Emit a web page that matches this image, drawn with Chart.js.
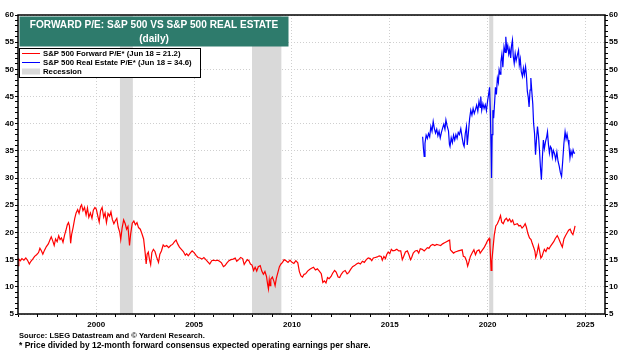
<!DOCTYPE html>
<html>
<head>
<meta charset="utf-8">
<script src="https://cdn.jsdelivr.net/npm/chart.js@4/dist/chart.umd.min.js"></script>
<style>
    html, body { margin: 0; padding: 0; background: #ffffff; }
    #wrap { position: relative; width: 624px; height: 353px; }
</style>
</head>
<body>
<div id="wrap"><canvas id="peChart" width="624" height="353"></canvas></div>
<script>
// S&P 500 forward P/E (decimal year, value)
const spxDates = [
    1996.00, 1996.04, 1996.12, 1996.20, 1996.30, 1996.40, 1996.50, 1996.58, 1996.66, 1996.75,
    1996.85, 1996.95, 1997.05, 1997.12, 1997.20, 1997.27, 1997.35, 1997.45, 1997.55, 1997.63,
    1997.70, 1997.78, 1997.85, 1997.92, 1998.00, 1998.08, 1998.15, 1998.22, 1998.30, 1998.38,
    1998.45, 1998.52, 1998.58, 1998.63, 1998.69, 1998.74, 1998.82, 1998.90, 1998.97, 1999.05,
    1999.12, 1999.20, 1999.25, 1999.32, 1999.40, 1999.48, 1999.55, 1999.62, 1999.70, 1999.78,
    1999.85, 1999.93, 2000.00, 2000.08, 2000.15, 2000.22, 2000.30, 2000.38, 2000.45, 2000.52,
    2000.60, 2000.68, 2000.75, 2000.82, 2000.90, 2000.98, 2001.05, 2001.12, 2001.20, 2001.25,
    2001.32, 2001.40, 2001.48, 2001.55, 2001.62, 2001.70, 2001.76, 2001.84, 2001.92, 2002.00,
    2002.08, 2002.16, 2002.25, 2002.33, 2002.42, 2002.50, 2002.55, 2002.60, 2002.66, 2002.72,
    2002.78, 2002.84, 2002.92, 2003.00, 2003.08, 2003.18, 2003.25, 2003.33, 2003.42, 2003.50,
    2003.60, 2003.70, 2003.80, 2003.90, 2004.00, 2004.08, 2004.16, 2004.25, 2004.35, 2004.45,
    2004.55, 2004.62, 2004.70, 2004.80, 2004.90, 2005.00, 2005.10, 2005.20, 2005.30, 2005.40,
    2005.50, 2005.60, 2005.70, 2005.80, 2005.90, 2006.00, 2006.10, 2006.20, 2006.30, 2006.40,
    2006.50, 2006.58, 2006.68, 2006.78, 2006.88, 2007.00, 2007.10, 2007.18, 2007.28, 2007.38,
    2007.48, 2007.56, 2007.64, 2007.72, 2007.80, 2007.88, 2007.96, 2008.04, 2008.12, 2008.20,
    2008.28, 2008.38, 2008.46, 2008.54, 2008.62, 2008.70, 2008.76, 2008.80, 2008.84, 2008.88,
    2008.92, 2009.00, 2009.08, 2009.14, 2009.20, 2009.28, 2009.36, 2009.44, 2009.52, 2009.60,
    2009.70, 2009.80, 2009.90, 2010.00, 2010.10, 2010.20, 2010.30, 2010.38, 2010.46, 2010.54,
    2010.62, 2010.70, 2010.80, 2010.90, 2011.00, 2011.10, 2011.20, 2011.30, 2011.40, 2011.50,
    2011.58, 2011.66, 2011.74, 2011.82, 2011.90, 2012.00, 2012.08, 2012.18, 2012.26, 2012.36,
    2012.44, 2012.52, 2012.62, 2012.72, 2012.82, 2012.90, 2013.00, 2013.10, 2013.20, 2013.30,
    2013.40, 2013.50, 2013.60, 2013.70, 2013.80, 2013.90, 2014.00, 2014.08, 2014.16, 2014.26,
    2014.36, 2014.46, 2014.56, 2014.62, 2014.70, 2014.78, 2014.84, 2014.92, 2015.00, 2015.08,
    2015.16, 2015.26, 2015.36, 2015.46, 2015.56, 2015.64, 2015.70, 2015.80, 2015.90, 2015.98,
    2016.06, 2016.12, 2016.20, 2016.30, 2016.40, 2016.48, 2016.56, 2016.66, 2016.76, 2016.84,
    2016.92, 2017.00, 2017.10, 2017.20, 2017.30, 2017.40, 2017.50, 2017.60, 2017.70, 2017.80,
    2017.90, 2018.00, 2018.06, 2018.10, 2018.18, 2018.26, 2018.34, 2018.42, 2018.50, 2018.60,
    2018.70, 2018.76, 2018.84, 2018.92, 2018.98, 2019.04, 2019.12, 2019.22, 2019.30, 2019.38,
    2019.46, 2019.56, 2019.62, 2019.72, 2019.82, 2019.92, 2020.00, 2020.08, 2020.12, 2020.18,
    2020.22, 2020.28, 2020.34, 2020.42, 2020.50, 2020.58, 2020.66, 2020.72, 2020.80, 2020.88,
    2020.96, 2021.04, 2021.12, 2021.20, 2021.28, 2021.36, 2021.44, 2021.52, 2021.60, 2021.68,
    2021.76, 2021.84, 2021.92, 2021.98, 2022.06, 2022.14, 2022.22, 2022.28, 2022.36, 2022.42,
    2022.46, 2022.52, 2022.60, 2022.66, 2022.72, 2022.78, 2022.84, 2022.90, 2022.98, 2023.06,
    2023.14, 2023.22, 2023.30, 2023.38, 2023.46, 2023.56, 2023.62, 2023.70, 2023.78, 2023.82,
    2023.90, 2023.98, 2024.06, 2024.14, 2024.22, 2024.30, 2024.36, 2024.42, 2024.47
];
const spxPE = [
    13.9, 15.1, 14.8, 15.2, 14.9, 15.3, 14.8, 14.2, 14.7, 15.1,
    15.6, 15.9, 16.3, 17.1, 16.6, 16.0, 16.7, 17.4, 17.9, 18.6,
    19.2, 18.4, 17.6, 18.8, 18.3, 19.4, 18.7, 19.0, 18.2, 19.5,
    20.4, 21.4, 21.8, 21.2, 18.0, 19.6, 21.0, 22.6, 23.6, 24.2,
    23.5, 24.8, 25.1, 24.0, 24.6, 23.2, 24.5, 22.8, 23.6, 22.6,
    24.1, 24.6, 24.3, 23.0, 21.9, 24.0, 24.6, 22.8, 23.6, 21.8,
    23.5, 23.0, 23.8, 22.4, 21.6, 22.2, 22.6, 21.0, 20.0, 18.7,
    20.8, 22.3, 21.6, 20.6, 21.1, 17.6, 19.8, 21.7, 22.1, 21.4,
    21.8, 20.9, 20.6, 19.8, 18.8, 16.2, 14.2, 16.0, 16.4, 15.0,
    14.1, 16.3, 16.9, 16.5, 15.5, 14.5, 16.0, 16.6, 17.7, 17.4,
    17.6, 17.2, 17.6, 17.8, 18.3, 18.6, 17.9, 17.3, 16.9, 16.5,
    15.8, 16.1, 15.7, 16.2, 16.6, 16.3, 15.8, 15.4, 15.3, 15.1,
    15.4, 15.0, 14.6, 14.2, 14.8, 14.9, 14.8, 14.9, 14.7, 14.4,
    13.7, 13.9, 14.4, 14.8, 15.0, 15.1, 15.3, 14.7, 15.0, 15.4,
    15.2, 14.1, 14.6, 15.0, 14.8, 14.2, 14.0, 13.0, 13.6, 12.9,
    13.7, 13.9, 12.9, 12.3, 12.8, 11.9, 10.4, 9.6, 11.3, 10.2,
    11.4, 11.8, 11.0, 10.2, 11.5, 12.6, 13.7, 14.2, 14.5, 15.0,
    14.8, 14.5, 14.9, 14.5, 14.3, 14.8, 14.4, 12.8, 12.0, 11.8,
    12.3, 12.4, 12.9, 13.2, 13.4, 13.6, 13.1, 13.3, 12.9, 12.4,
    10.8, 11.1, 10.7, 11.7, 11.5, 11.9, 12.5, 13.0, 12.7, 11.8,
    11.7, 12.3, 12.8, 13.0, 12.4, 12.6, 13.2, 13.7, 13.9, 14.2,
    14.4, 14.2, 14.7, 14.5, 15.0, 15.3, 15.2, 14.8, 15.3, 15.4,
    15.5, 15.7, 15.6, 14.9, 15.6, 15.2, 15.9, 16.4, 16.1, 16.9,
    16.6, 16.7, 16.9, 16.6, 16.6, 15.0, 15.5, 16.4, 16.6, 15.9,
    15.0, 15.4, 16.2, 16.6, 16.7, 16.2, 17.0, 16.9, 16.6, 16.9,
    17.2, 17.1, 17.6, 17.8, 17.6, 17.8, 17.7, 17.6, 17.9, 18.1,
    18.3, 18.5, 18.6, 16.8, 16.5, 16.2, 16.4, 16.5, 16.6, 16.7,
    16.8, 15.6, 15.5, 14.8, 13.8, 14.5, 15.6, 16.3, 16.8, 15.9,
    16.6, 16.8, 16.2, 16.7, 17.2, 17.9, 18.5, 18.9, 17.8, 13.0,
    14.8, 17.2, 19.5, 21.2, 21.6, 22.3, 23.1, 21.9, 21.6, 22.3,
    22.6, 22.1, 22.5, 21.9, 22.3, 21.4, 21.5, 21.6, 21.2, 21.3,
    20.8, 21.1, 21.6, 21.0, 19.8, 19.0, 18.7, 18.0, 17.2, 16.5,
    15.4, 16.1, 17.6, 16.5, 15.3, 15.6, 16.3, 16.9, 16.5, 17.2,
    17.0, 17.5, 17.9, 18.3, 18.9, 19.4, 19.0, 18.3, 17.6, 17.3,
    18.8, 19.4, 19.9, 20.4, 20.6, 19.9, 19.6, 20.4, 21.2
];

// S&P 500 Real Estate forward P/E
const reDates = [
    2016.68, 2016.72, 2016.76, 2016.80, 2016.86, 2016.92, 2016.98, 2017.04, 2017.10, 2017.16,
    2017.22, 2017.28, 2017.34, 2017.40, 2017.46, 2017.52, 2017.58, 2017.64, 2017.70, 2017.76,
    2017.82, 2017.87, 2017.93, 2018.00, 2018.05, 2018.08, 2018.14, 2018.20, 2018.26, 2018.32,
    2018.38, 2018.44, 2018.50, 2018.56, 2018.63, 2018.70, 2018.76, 2018.80, 2018.86, 2018.92,
    2018.96, 2019.02, 2019.08, 2019.14, 2019.20, 2019.26, 2019.32, 2019.38, 2019.44, 2019.50,
    2019.56, 2019.62, 2019.65, 2019.70, 2019.76, 2019.82, 2019.88, 2019.94, 2020.00, 2020.06,
    2020.10, 2020.14, 2020.18, 2020.20, 2020.23, 2020.27, 2020.31, 2020.36, 2020.40, 2020.45,
    2020.50, 2020.55, 2020.59, 2020.64, 2020.68, 2020.73, 2020.78, 2020.84, 2020.90, 2020.93,
    2020.98, 2021.03, 2021.08, 2021.13, 2021.18, 2021.22, 2021.27, 2021.31, 2021.36, 2021.41,
    2021.46, 2021.52, 2021.58, 2021.62, 2021.67, 2021.72, 2021.78, 2021.83, 2021.88, 2021.94,
    2021.98, 2022.03, 2022.08, 2022.12, 2022.17, 2022.21, 2022.26, 2022.31, 2022.35, 2022.40,
    2022.45, 2022.50, 2022.55, 2022.60, 2022.65, 2022.70, 2022.75, 2022.80, 2022.85, 2022.90,
    2022.96, 2023.02, 2023.06, 2023.11, 2023.16, 2023.21, 2023.26, 2023.31, 2023.36, 2023.42,
    2023.48, 2023.54, 2023.60, 2023.66, 2023.72, 2023.78, 2023.84, 2023.90, 2023.96, 2024.01,
    2024.06, 2024.11, 2024.16, 2024.21, 2024.26, 2024.32, 2024.37, 2024.42, 2024.47
];
const rePE = [
    37.6, 35.5, 34.0, 36.4, 37.9, 37.3, 38.2, 37.6, 39.5, 38.6,
    40.4, 39.1, 38.3, 39.0, 37.8, 38.6, 37.4, 38.4, 39.2, 39.9,
    39.0, 40.7, 39.6, 38.7, 36.2, 35.8, 37.4, 36.5, 37.9, 37.0,
    38.0, 37.3, 38.4, 38.0, 39.1, 37.4, 36.2, 35.8, 38.2, 39.5,
    36.1, 38.4, 40.9, 42.5, 41.6, 42.8, 41.9, 42.6, 43.4, 42.3,
    44.1, 43.0, 45.0, 42.5, 43.7, 42.8, 43.5, 42.4, 44.2, 45.6,
    46.7, 42.1, 35.0, 30.0, 38.0, 42.5, 41.0, 44.0, 46.7, 45.4,
    48.4, 47.6, 49.9, 49.1, 51.4, 52.8, 50.4, 54.2, 53.1, 56.0,
    53.6, 54.4, 52.8, 53.7, 52.1, 54.3, 55.4, 52.4, 51.1, 52.9,
    51.6, 52.6, 53.5, 50.8, 51.9, 49.6, 48.7, 50.2, 49.0, 50.5,
    49.1, 46.0, 44.8, 43.1, 46.2, 48.4, 45.9, 43.6, 40.1, 38.2,
    34.3, 37.2, 39.5, 37.8, 35.2, 32.1, 29.7, 33.8, 37.0, 35.4,
    36.7, 37.6, 38.5, 36.2, 34.6, 35.8, 35.5, 33.9, 35.1, 34.5,
    33.4, 34.8, 33.1, 32.2, 31.0, 30.3, 33.2, 36.4, 38.5, 37.2,
    38.1, 37.0, 35.9, 33.7, 35.0, 34.1, 35.2, 34.6, 34.6
];

// Recessions (start, end as decimal years)
const recessionStart = [2001.21, 2007.96, 2020.08];
const recessionEnd = [2001.87, 2009.46, 2020.29];

const titleLines = ['FORWARD P/E: S&P 500 VS S&P 500 REAL ESTATE', '(daily)'];
const legendLabels = [
    'S&P 500 Forward P/E* (Jun 18 = 21.2)',
    'S&P 500 Real Estate P/E* (Jun 18 = 34.6)',
    'Recession'
];
const footnotes = [
    'Source: LSEG Datastream and \u00A9 Yardeni Research.',
    '* Price divided by 12-month forward consensus expected operating earnings per share.'
];

const FONT = "'Liberation Sans', Arial, sans-serif";
const RED = '#ff0000';
const BLUE = '#0000ff';
const RECESSION_GREY = '#d9d9d9';
const TITLE_GREEN = '#2e7b6c';
const GRID_GREY = '#cfcfcf';

function toPoints(xs, ys) {
    return xs.map((x, i) => ({ x: x, y: ys[i] }));
}

// pick a bold font size so that text spans roughly the given width
function fitFont(ctx, text, width, base) {
    ctx.font = 'bold ' + base + 'px ' + FONT;
    const size = base * width / ctx.measureText(text).width;
    ctx.font = 'bold ' + size.toFixed(2) + 'px ' + FONT;
    return size;
}

// grey recession bands behind the lines
const recessionPlugin = {
    id: 'recessions',
    beforeDatasetsDraw(chart) {
        const { ctx, chartArea, scales } = chart;
        ctx.save();
        ctx.fillStyle = RECESSION_GREY;
        recessionStart.forEach((s, i) => {
            const x1 = scales.x.getPixelForValue(s);
            const x2 = scales.x.getPixelForValue(recessionEnd[i]);
            ctx.fillRect(x1, chartArea.top, x2 - x1, chartArea.bottom - chartArea.top);
        });
        ctx.restore();
    }
};

// frame, title box, legend box and footnotes
const decorPlugin = {
    id: 'decor',
    afterDraw(chart) {
        const { ctx, chartArea } = chart;
        ctx.save();

        // plot frame
        ctx.strokeStyle = '#000';
        ctx.lineWidth = 1.5;
        ctx.strokeRect(chartArea.left, chartArea.top, chartArea.right - chartArea.left, chartArea.bottom - chartArea.top);

        // title box
        ctx.fillStyle = TITLE_GREEN;
        ctx.fillRect(19.5, 16.5, 269, 30);
        ctx.fillStyle = '#ffffff';
        ctx.textAlign = 'center';
        ctx.textBaseline = 'middle';
        const titleSize = fitFont(ctx, titleLines[0], 249, 12);
        ctx.fillText(titleLines[0], 154, 25.5);
        ctx.font = 'bold ' + titleSize.toFixed(2) + 'px ' + FONT;
        ctx.fillText(titleLines[1], 154, 39.5);

        // legend box
        ctx.fillStyle = '#ffffff';
        ctx.fillRect(19.5, 48.5, 181, 29);
        ctx.strokeStyle = '#000';
        ctx.lineWidth = 1;
        ctx.strokeRect(19.5, 48.5, 181, 29);

        const rowY = [53.5, 62.5, 71.5];
        ctx.lineWidth = 1;
        ctx.strokeStyle = RED;
        ctx.beginPath(); ctx.moveTo(22, rowY[0]); ctx.lineTo(40, rowY[0]); ctx.stroke();
        ctx.strokeStyle = BLUE;
        ctx.beginPath(); ctx.moveTo(22, rowY[1]); ctx.lineTo(40, rowY[1]); ctx.stroke();
        ctx.fillStyle = RECESSION_GREY;
        ctx.fillRect(22, rowY[2] - 3, 18, 6);

        ctx.fillStyle = '#000';
        ctx.textAlign = 'left';
        fitFont(ctx, legendLabels[1], 149, 8);
        legendLabels.forEach((t, i) => ctx.fillText(t, 43, rowY[i]));

        // footnotes
        fitFont(ctx, footnotes[0], 186, 7.5);
        ctx.fillText(footnotes[0], 19, 335.5);
        fitFont(ctx, footnotes[1], 352, 7.5);
        ctx.fillText(footnotes[1], 19, 345.5);

        ctx.restore();
    }
};

function yAxis(position, width) {
    return {
        type: 'linear',
        position: position,
        min: 5,
        max: 60,
        afterFit: (scale) => { scale.width = width; },
        border: { display: false, dash: [1, 2] },
        grid: {
            drawOnChartArea: position === 'left',
            color: (c) => (c.tick && c.tick.value % 5 === 0 ? GRID_GREY : 'rgba(0,0,0,0)'),
            tickLength: 3,
            tickColor: '#000'
        },
        ticks: {
            stepSize: 1,
            autoSkip: false,
            padding: 1,
            color: '#000',
            font: { family: FONT, size: 8, weight: 'bold' },
            callback: (v) => (v % 5 === 0 ? v : '')
        }
    };
}

function createPEChart() {
    const ctx = document.getElementById('peChart');
    if (!ctx) return;

    new Chart(ctx, {
        type: 'line',
        data: {
            datasets: [
                {
                    label: legendLabels[0],
                    data: toPoints(spxDates, spxPE),
                    borderColor: RED,
                    borderWidth: 1.2,
                    pointRadius: 0,
                    tension: 0,
                    yAxisID: 'y'
                },
                {
                    label: legendLabels[1],
                    data: toPoints(reDates, rePE),
                    borderColor: BLUE,
                    borderWidth: 1.2,
                    pointRadius: 0,
                    tension: 0,
                    yAxisID: 'y'
                }
            ]
        },
        options: {
            responsive: false,
            animation: false,
            layout: { padding: { top: 15, left: 0, right: 0, bottom: 0 } },
            plugins: {
                legend: { display: false },
                tooltip: { enabled: false }
            },
            scales: {
                x: {
                    type: 'linear',
                    min: 1996,
                    max: 2026,
                    afterFit: (scale) => { scale.height = 39; },
                    border: { display: false, dash: [1, 2] },
                    grid: {
                        color: (c) => (c.tick && c.tick.value % 5 === 0 ? GRID_GREY : 'rgba(0,0,0,0)'),
                        tickLength: 3,
                        tickColor: '#000'
                    },
                    ticks: {
                        stepSize: 1,
                        autoSkip: false,
                        maxRotation: 0,
                        padding: 3,
                        color: '#000',
                        font: { family: FONT, size: 8, weight: 'bold' },
                        callback: (v) => (v % 5 === 0 ? String(v) : '')
                    }
                },
                y: yAxis('left', 18),
                y2: yAxis('right', 19)
            }
        },
        plugins: [recessionPlugin, decorPlugin]
    });
}

document.addEventListener('DOMContentLoaded', createPEChart);
</script>
</body>
</html>
